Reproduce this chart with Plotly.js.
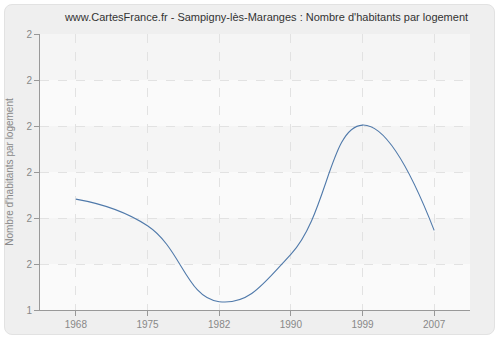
<!DOCTYPE html>
<html>
<head>
<meta charset="utf-8">
<script src="https://cdn.plot.ly/plotly-3.0.1.min.js"></script>
<style>
  html, body { margin: 0; padding: 0; background: #ffffff; }
  #wrap { position: relative; width: 500px; height: 340px; background: #ffffff; }
  #panel { position: absolute; left: 4px; top: 4px; width: 489px; height: 329px;
           background: #efefef; border: 1px solid #e2e2e2; border-radius: 8px; }
  #chart { position: absolute; left: 0; top: 0; width: 500px; height: 340px; }
</style>
</head>
<body>
<div id="wrap">
  <div id="panel"></div>
  <div id="chart"></div>
</div>
<script>
const years = ["1968", "1975", "1982", "1990", "1999", "2007"];
const habitantsParLogement = [1.641, 1.583, 1.418, 1.521, 1.802, 1.573];
const yTickVals = [1.4, 1.5, 1.6, 1.7, 1.8, 1.9, 2.0];
const yTickText = ["1", "2", "2", "2", "2", "2", "2"];

const bandShapes = [];
for (let i = 0; i < yTickVals.length - 1; i++) {
  bandShapes.push({
    type: "rect", xref: "paper", yref: "y", layer: "below",
    x0: 0, x1: 1, y0: yTickVals[i], y1: yTickVals[i + 1],
    fillcolor: (i % 2 === 0) ? "#fafafa" : "#f5f5f5",
    line: { width: 0 }
  });
}

const trace = {
  x: years,
  y: habitantsParLogement,
  type: "scatter",
  mode: "lines",
  line: { shape: "spline", smoothing: 1.3, color: "#4f79aa", width: 1.1 },
  hoverinfo: "x+y"
};

const layout = {
  width: 500, height: 340,
  paper_bgcolor: "rgba(0,0,0,0)",
  plot_bgcolor: "#fafafa",
  margin: { l: 40, r: 30, t: 34, b: 30 },
  showlegend: false,
  title: {
    text: "www.CartesFrance.fr - Sampigny-lès-Maranges : Nombre d'habitants par logement",
    font: { family: "Liberation Sans, Arial, sans-serif", size: 11, color: "#333333" },
    x: 0.533, xanchor: "center", y: 0.95, yanchor: "middle"
  },
  xaxis: {
    type: "category",
    range: [-0.5, 5.5],
    showline: true, linecolor: "#999999", linewidth: 1,
    ticks: "outside", ticklen: 5, tickcolor: "#999999",
    showgrid: true, gridcolor: "#e2e2e2", griddash: "dash", gridwidth: 1,
    tickfont: { family: "Liberation Sans, Arial, sans-serif", size: 10, color: "#888888" },
    zeroline: false, fixedrange: true
  },
  yaxis: {
    range: [1.4, 2.0],
    tickvals: yTickVals, ticktext: yTickText,
    showline: true, linecolor: "#999999", linewidth: 1,
    ticks: "outside", ticklen: 5, tickcolor: "#999999",
    showgrid: true, gridcolor: "#e2e2e2", griddash: "dash", gridwidth: 1,
    tickfont: { family: "Liberation Sans, Arial, sans-serif", size: 10, color: "#888888" },
    title: { text: "Nombre d'habitants par logement",
             font: { family: "Liberation Sans, Arial, sans-serif", size: 10, color: "#888888" },
             standoff: 10 },
    zeroline: false, fixedrange: true
  },
  shapes: bandShapes
};

Plotly.newPlot("chart", [trace], layout, { displayModeBar: false, staticPlot: true });
</script>
</body>
</html>
